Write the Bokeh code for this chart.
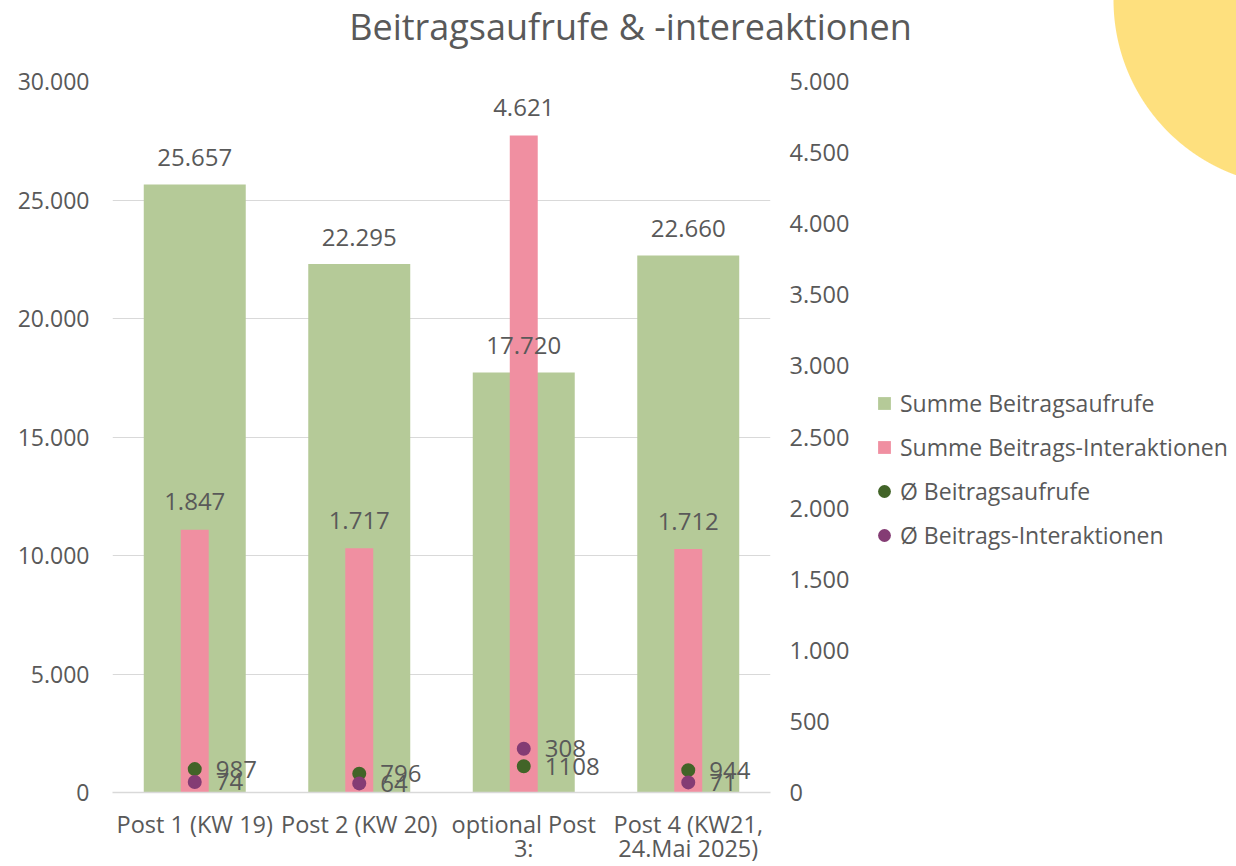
from bokeh.plotting import figure
from bokeh.layouts import row
from bokeh.models import (ColumnDataSource, Range1d, LinearAxis, CategoricalAxis, FactorRange,
                          LabelSet, Label, Legend, LegendItem, CustomJSTickFormatter, FixedTicker)
from bokeh.embed import file_html
from bokeh.resources import INLINE
from bokeh.core.properties import value

# ---------------- data ----------------
categories = ["Post 1 (KW 19)", "Post 2 (KW 20)", "optional Post 3:", "Post 4 (KW21, 24.Mai 2025)"]
label_line1 = ["Post 1 (KW 19)", "Post 2 (KW 20)", "optional Post", "Post 4 (KW21,"]
label_line2 = ["", "", "3:", "24.Mai 2025)"]
summe_aufrufe = [25657, 22295, 17720, 22660]
summe_interaktionen = [1847, 1717, 4621, 1712]
avg_aufrufe = [987, 796, 1108, 944]
avg_interaktionen = [74, 64, 308, 71]
left_ticks = [0, 5000, 10000, 15000, 20000, 25000, 30000]
right_ticks = [0, 500, 1000, 1500, 2000, 2500, 3000, 3500, 4000, 4500, 5000]
series_names = ["Summe Beitragsaufrufe", "Summe Beitrags-Interaktionen",
                "Ø Beitragsaufrufe", "Ø Beitrags-Interaktionen"]
title_text = "Beitragsaufrufe & -intereaktionen"

# ---------------- style ----------------
FONT = "Open Sans"
TXT = "#595959"
GREEN = "#B5CA98"
PINK = "#F08FA1"
DGREEN = "#426428"
PURPLE = "#843C74"
GRID = "#D9D9D9"
YELLOW = "#FEE07E"
W, H = 1236, 866


def de(n):
    return f"{n:,}".replace(",", ".")


src = ColumnDataSource(dict(
    cat=categories,
    sa=summe_aufrufe, si=summe_interaktionen,
    aa=avg_aufrufe, ai=avg_interaktionen,
    sa_t=[de(v) for v in summe_aufrufe],
    si_t=[de(v) for v in summe_interaktionen],
    aa_t=[str(v) for v in avg_aufrufe],
    ai_t=[str(v) for v in avg_interaktionen],
))

# ================= main chart =================
p = figure(width=W, height=H, output_backend="svg", toolbar_location=None,
           x_range=FactorRange(factors=categories, range_padding=0),
           y_range=Range1d(0, 30000),
           min_border_left=112, min_border_right=466, min_border_top=81, min_border_bottom=69,
           frame_align=False,
           styles={"background": "radial-gradient(circle at 1300px 0px, " + YELLOW +
                                 " 186px, #FFFFFF 187px)"})
p.extra_y_ranges = {"right": Range1d(0, 5000)}
p.outline_line_color = None
p.background_fill_color = "white"
p.border_fill_alpha = 0

fmt = CustomJSTickFormatter(code="return tick.toFixed(0).replace(/\\B(?=(\\d{3})+(?!\\d))/g, '.');")


def style_axis(ax, size):
    ax.axis_line_color = None
    ax.major_tick_line_color = None
    ax.minor_tick_line_color = None
    ax.major_tick_out = 0
    ax.major_tick_in = 0
    ax.minor_tick_out = 0
    ax.minor_tick_in = 0
    ax.major_label_text_font = FONT
    ax.major_label_text_font_size = size
    ax.major_label_text_color = TXT


# left axis
ya = p.yaxis[0]
ya.ticker = FixedTicker(ticks=left_ticks)
ya.formatter = fmt
style_axis(ya, "23px")
ya.major_label_standoff = 23

# right axis
ra = LinearAxis(y_range_name="right", ticker=FixedTicker(ticks=right_ticks), formatter=fmt)
style_axis(ra, "23.5px")
ra.major_label_standoff = 19
p.add_layout(ra, "right")

# x axis: two stacked category axes give the two label lines
line_fmt_code = "const i = keys.indexOf(tick); return i >= 0 ? vals[i] : tick;"
xa = p.xaxis[0]
style_axis(xa, "23.5px")
xa.axis_line_color = GRID
xa.axis_line_width = 1.5
xa.major_label_standoff = 15
xa.formatter = CustomJSTickFormatter(args=dict(keys=categories, vals=label_line1), code=line_fmt_code)

xb = CategoricalAxis()
style_axis(xb, "23.5px")
xb.major_label_standoff = -11
xb.formatter = CustomJSTickFormatter(args=dict(keys=categories, vals=label_line2), code=line_fmt_code)
p.add_layout(xb, "below")

p.xgrid.grid_line_color = None
p.ygrid.grid_line_color = GRID
p.ygrid.grid_line_width = 1.2
p.ygrid.ticker = FixedTicker(ticks=left_ticks[1:])

p.vbar(x="cat", top="sa", width=0.62, source=src, fill_color=GREEN, line_color=None)
p.vbar(x="cat", top="si", width=0.17, source=src, fill_color=PINK, line_color=None,
       y_range_name="right")
p.scatter(x="cat", y="aa", size=14, source=src, fill_color=DGREEN, line_color=None)
p.scatter(x="cat", y="ai", size=14, source=src, fill_color=PURPLE, line_color=None,
          y_range_name="right")

lab_kw = dict(source=src, text_font=value(FONT), text_font_size="24px", text_color=TXT)
p.add_layout(LabelSet(x="cat", y="sa", text="sa_t", text_align="center", text_baseline="middle",
                      y_offset=27, **lab_kw))
p.add_layout(LabelSet(x="cat", y="si", text="si_t", text_align="center", text_baseline="middle",
                      y_offset=28, y_range_name="right", **lab_kw))
p.add_layout(LabelSet(x="cat", y="aa", text="aa_t", text_align="left", text_baseline="middle",
                      x_offset=21, **lab_kw))
p.add_layout(LabelSet(x="cat", y="ai", text="ai_t", text_align="left", text_baseline="middle",
                      x_offset=21, y_range_name="right", **lab_kw))

# ================= transparent overlay: title + legend =================
ov = figure(width=W, height=H, output_backend="svg", toolbar_location=None,
            x_range=FactorRange(factors=categories), y_range=Range1d(-2, -1),
            x_axis_location=None, y_axis_location=None, min_border=0,
            frame_align=False, margin=(0, 0, 0, -W))
ov.outline_line_color = None
ov.background_fill_alpha = 0
ov.border_fill_alpha = 0
ov.xgrid.grid_line_color = None
ov.ygrid.grid_line_color = None

# legend proxies (outside the visible y range of the overlay)
g1 = ov.scatter(x="cat", y="sa", marker="square", source=src, fill_color=GREEN, line_color=None)
g2 = ov.scatter(x="cat", y="si", marker="square", source=src, fill_color=PINK, line_color=None)
g3 = ov.scatter(x="cat", y="aa", marker="circle", source=src, fill_color=DGREEN, line_color=None)
g4 = ov.scatter(x="cat", y="ai", marker="circle", source=src, fill_color=PURPLE, line_color=None)

legend = Legend(items=[LegendItem(label=series_names[0], renderers=[g1]),
                       LegendItem(label=series_names[1], renderers=[g2]),
                       LegendItem(label=series_names[2], renderers=[g3]),
                       LegendItem(label=series_names[3], renderers=[g4])],
                location=(868, 315), orientation="vertical",
                label_text_font=FONT, label_text_font_size="23px", label_text_color=TXT,
                glyph_width=32, glyph_height=32, label_standoff=0, spacing=12,
                padding=0, margin=0, border_line_color=None, background_fill_alpha=0)
ov.add_layout(legend, "center")

ov.add_layout(Label(x=630, y=H - 26, x_units="screen", y_units="screen", text=title_text,
                    text_align="center", text_baseline="middle", text_font=FONT,
                    text_font_size="36px", text_color=TXT))

layout = row(p, ov)
open("out.html", "w").write(file_html(layout, INLINE))
